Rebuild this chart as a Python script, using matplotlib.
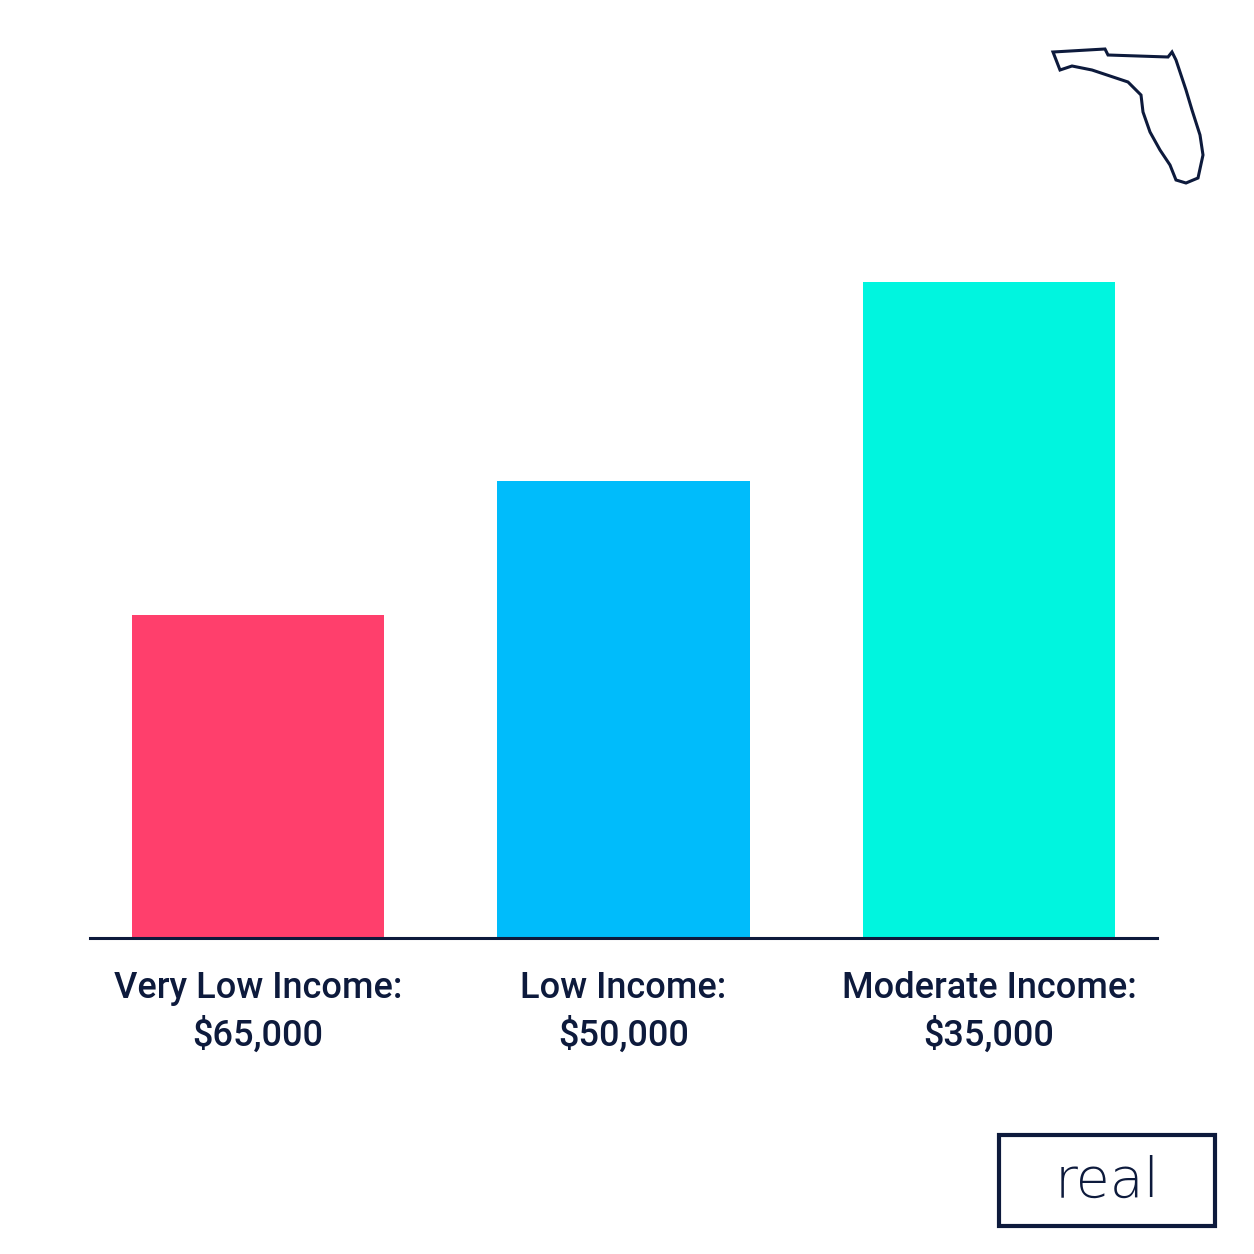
import matplotlib
matplotlib.use("Agg")
import matplotlib.pyplot as plt
from matplotlib.patches import Rectangle, Polygon

categories = ["Very Low Income:\n$65,000", "Low Income:\n$50,000", "Moderate Income:\n$35,000"]
heights = [323, 457, 656]
colors = ["#ff3f6c", "#00bcfb", "#00f5df"]
navy = "#0d1a3c"

W = H = 1254
fig = plt.figure(figsize=(12.54, 12.54), dpi=100)
fig.patch.set_facecolor("white")
ax = fig.add_axes([90/W, 1-938/H, (1157-90)/W, (938-200)/H])
x = list(range(len(categories)))
ax.bar(x, heights, width=0.69, color=colors)
ax.set_xlim(-0.46, 2.46)
ax.set_ylim(0, 738)
for s in ["top", "right", "left"]:
    ax.spines[s].set_visible(False)
ax.spines["bottom"].set_color(navy)
ax.spines["bottom"].set_linewidth(2.2)
ax.set_yticks([])
ax.set_xticks(x)
ax.set_xticklabels(categories, fontsize=26, fontfamily="Roboto", fontweight="medium",
                   color=navy, linespacing=1.35)
ax.tick_params(axis="x", length=0, pad=24)

def fp(px, py):
    return (px/W, 1-py/H)

fl = [(1053,52),(1105,49),(1108,55),(1168,57),(1172,52),(1176,60),(1186,90),(1192,110),
      (1200,135),(1203,155),(1198,178),(1186,183),(1176,180),(1170,165),(1160,150),
      (1150,132),(1143,112),(1141,95),(1128,82),(1110,76),(1092,70),(1072,66),(1060,70),(1053,52)]
fig.patches.append(Polygon([fp(*p) for p in fl], closed=True, fill=False, edgecolor=navy,
                           linewidth=2.2, transform=fig.transFigure))
fig.patches.append(Rectangle(fp(999,1226), 216/W, 91/H, fill=False, edgecolor=navy,
                             linewidth=3, transform=fig.transFigure))
fig.text(1107/W, 1-1182/H, "real", fontsize=40, fontfamily="DejaVu Sans", color=navy,
         ha="center", va="center", fontweight="light")
fig.savefig("out.png", dpi=100, facecolor="white")
